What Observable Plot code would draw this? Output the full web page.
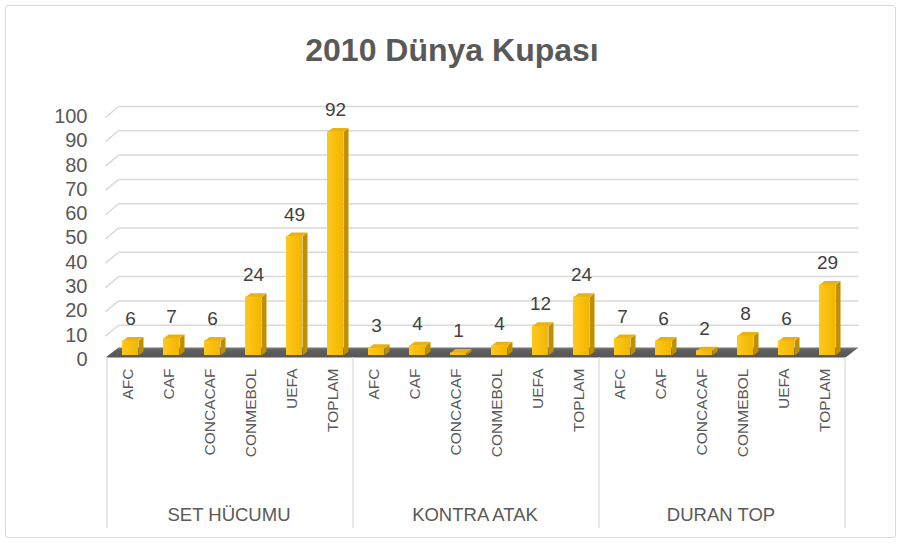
<!DOCTYPE html>
<html>
<head>
<meta charset="utf-8">
<script src="https://cdn.jsdelivr.net/npm/d3@7"></script>
<script src="https://cdn.jsdelivr.net/npm/@observablehq/plot@0.6"></script>
<style>
  body { margin: 0; background: #fff; }
  #wrap { position: relative; width: 904px; height: 547px; background: #fff; overflow: hidden; }
  #frame { position: absolute; left: 5px; top: 5px; width: 891px; height: 533px; border: 1px solid #d9d9d9; border-radius: 3px; box-sizing: border-box; }
  #title { position: absolute; left: 0; width: 904px; top: 30px; text-align: center; font: bold 32px "Liberation Sans", Arial, sans-serif; line-height: 40px; color: #595959; }
  #chart { position: absolute; left: 0; top: 0; }
</style>
</head>
<body>
<div id="wrap">
  <div id="frame"></div>
  <div id="chart"></div>
  <div id="title">2010 Dünya Kupası</div>
</div>
<script>
const groups = ["SET HÜCUMU", "KONTRA ATAK", "DURAN TOP"];
const regions = ["AFC", "CAF", "CONCACAF", "CONMEBOL", "UEFA", "TOPLAM"];
const setHucumu = [6, 7, 6, 24, 49, 92];
const kontraAtak = [3, 4, 1, 4, 12, 24];
const duranTop = [7, 6, 2, 8, 6, 29];
const yTicks = [0, 10, 20, 30, 40, 50, 60, 70, 80, 90, 100];

const seriesByGroup = [setHucumu, kontraAtak, duranTop];
const rows = [];
groups.forEach((g, gi) => {
  regions.forEach((r, ri) => {
    rows.push({group: g, region: r, value: seriesByGroup[gi][ri], i: gi * regions.length + ri});
  });
});
const n = rows.length;

// layout (pixel geometry converted to data units)
const W = 904, H = 547;
const xLeft = 109.5, xRight = 847.5, yTop = 112, yBottom = 355;
const KX = (xRight - xLeft) / n;
const KY = (yBottom - yTop) / 100;
const ux = px => px / KX;
const uy = px => px / KY;

const hw = ux(8), dX = ux(5), dY = uy(4);
const sidePts = [], topPts = [];
rows.forEach(d => {
  const {i, value: v} = d;
  sidePts.push({x: i + hw, y: 0, z: i}, {x: i + hw + dX, y: dY, z: i}, {x: i + hw + dX, y: v + dY, z: i}, {x: i + hw, y: v, z: i});
  topPts.push({x: i - hw, y: v, z: i}, {x: i + hw, y: v, z: i}, {x: i + hw + dX, y: v + dY, z: i}, {x: i - hw + dX, y: v + dY, z: i});
});

const x0 = -0.5, x1 = n - 0.5;
const gxBackL = x0 + ux(8.5), gxBackR = x1 + ux(10.5), gxFrontL = x0 - ux(4.5), gxFrontR = x1 - ux(2.5);
const floorPts = [
  {x: gxFrontL, y: -uy(2)}, {x: gxBackL, y: uy(8)}, {x: gxBackR, y: uy(8)}, {x: gxFrontR, y: -uy(2)}
];
const gridTicks = yTicks.filter(t => t > 0);
const seps = groups.map((g, gi) => gi * regions.length - 0.5).concat([n - 0.5]);
const groupCenters = groups.map((g, gi) => ({group: g, c: gi * regions.length + (regions.length - 1) / 2}));

const font = '"Liberation Sans", Arial, sans-serif';

const plot = Plot.plot({
  width: W, height: H,
  marginLeft: xLeft, marginRight: W - xRight, marginTop: yTop, marginBottom: H - yBottom,
  style: {background: "transparent", fontFamily: font, overflow: "visible"},
  x: {domain: [x0, x1], axis: null},
  y: {domain: [0, 100], axis: null},
  marks: [
    // 3D gridlines: diagonal + horizontal
    Plot.link(gridTicks, {x1: () => gxFrontL, y1: d => d - uy(5), x2: () => gxBackL, y2: d => d + uy(6), stroke: "#d9d9d9", strokeWidth: 1.5}),
    Plot.link(gridTicks, {x1: () => gxBackL, y1: d => d + uy(6), x2: () => gxBackR, y2: d => d + uy(6), stroke: "#d9d9d9", strokeWidth: 1.5}),
    // floor
    Plot.line(floorPts, {x: "x", y: "y", fill: "url(#floorGrad)", stroke: "none"}),
    // group separators
    Plot.ruleX(seps, {x: d => d, y1: () => -uy(2), y2: () => -uy(173), dx: -3, stroke: "#d9d9d9", strokeWidth: 1.2}),
    // bars
    Plot.line(sidePts, {x: "x", y: "y", z: "z", fill: "#bf8f00", stroke: "none"}),
    Plot.line(topPts, {x: "x", y: "y", z: "z", fill: "#e9b213", stroke: "none"}),
    Plot.rect(rows, {x1: d => d.i - hw, x2: d => d.i + hw, y1: () => 0, y2: "value", fill: "url(#goldGrad)"}),
    // value labels
    Plot.text(rows, {x: "i", y: "value", text: d => String(d.value), dy: -22, fontSize: 19, fill: "#404040", lineAnchor: "middle"}),
    // y tick labels
    Plot.text(yTicks, {x: () => x0, y: d => d, text: d => String(d), dx: -22.5, dy: 4, textAnchor: "end", fontSize: 20, fill: "#595959", lineAnchor: "middle"}),
    // category labels
    Plot.text(rows, {x: "i", y: () => 0, text: "region", rotate: -90, textAnchor: "end", lineAnchor: "middle", dy: 13, dx: -2, fontSize: 15.5, fill: "#595959"}),
    // group labels
    Plot.text(groupCenters, {x: "c", y: () => 0, text: "group", dy: 160, dx: -4, fontSize: 18.5, fill: "#595959", lineAnchor: "middle"})
  ]
});

const defs = document.createElementNS("http://www.w3.org/2000/svg", "defs");
defs.innerHTML = `
  <linearGradient id="goldGrad" x1="0" y1="0" x2="1" y2="0">
    <stop offset="0" stop-color="#ffc81c"/>
    <stop offset="1" stop-color="#f3b600"/>
  </linearGradient>
  <linearGradient id="floorGrad" x1="0" y1="0" x2="0" y2="1">
    <stop offset="0" stop-color="#7a7a7a"/>
    <stop offset="0.3" stop-color="#5e5e5e"/>
    <stop offset="1" stop-color="#555555"/>
  </linearGradient>`;
plot.insertBefore(defs, plot.firstChild);
document.getElementById("chart").appendChild(plot);
</script>
</body>
</html>
